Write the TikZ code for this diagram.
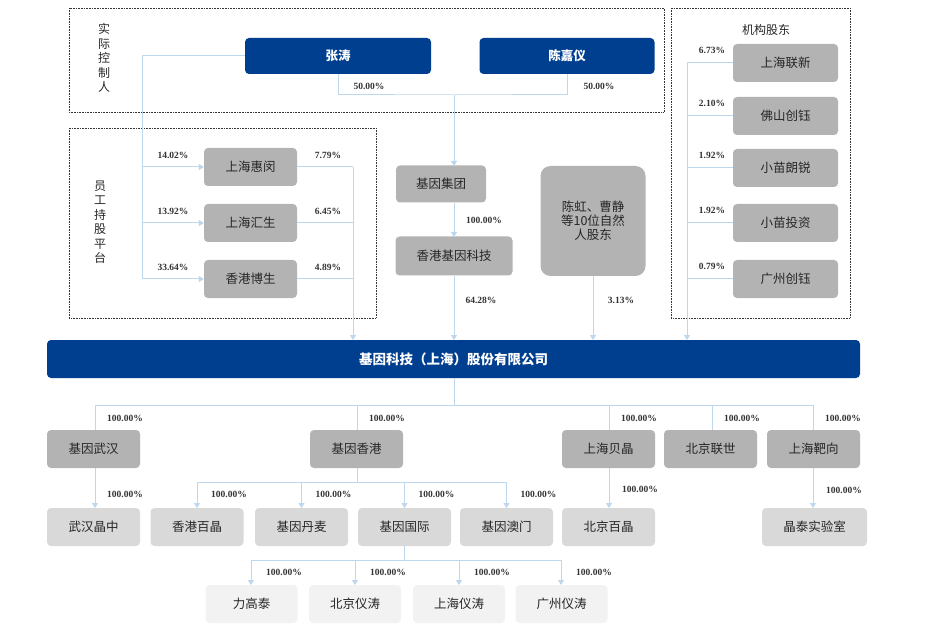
\documentclass[tikz,border=0pt]{standalone}
\usepackage{fontspec}
\setmainfont{Liberation Serif}
\newfontfamily\cjk{Noto Sans CJK SC}
\usetikzlibrary{arrows.meta}
\definecolor{myblue}{HTML}{003F8F}
\definecolor{lnk}{HTML}{BDD7EE}
\definecolor{gA}{HTML}{B3B3B3}
\definecolor{gB}{HTML}{D9D9D9}
\definecolor{gC}{HTML}{F2F2F2}
\begin{document}
\begin{tikzpicture}[x=1pt,y=-1pt,
  bx/.style={rounded corners=4pt,inner sep=0pt,font=\cjk\fontsize{12.5}{14}\selectfont,text=black!85},
  bl/.style={bx,fill=myblue,text=white,font=\cjk\bfseries\fontsize{12.5}{14}\selectfont},
  lv/.style={bx,fill=gA},
  lw/.style={bx,fill=gB},
  lx/.style={bx,fill=gC},
  ln/.style={draw=lnk,line width=1pt},
  ar/.style={ln,-{Triangle[width=6pt,length=5pt]}},
  pc/.style={font=\bfseries\fontsize{9.5}{11}\selectfont,text=black!80,inner sep=0pt},
  dbox/.style={draw=black!80,densely dotted,line width=0.6pt},
  vt/.style={font=\cjk\fontsize{12}{14.5}\selectfont,align=center,text=black!85}]
\useasboundingbox (0,0) rectangle (934,628);
\fill[white] (0,0) rectangle (934,628);
% dotted frames
\draw[dbox] (69,8) rectangle (664,112);
\draw[dbox] (69,128) rectangle (376,318);
\draw[dbox] (671,8) rectangle (850,318);
\node[vt] (t1) at (104,58) {实\\际\\控\\制\\人};
\node[vt] (t2) at (100,222) {员\\工\\持\\股\\平\\台};
\node[vt] (t3) at (766,30) {机构股东};
% top people
\node[bl,minimum width=186pt,minimum height=36pt] (zt) at (338,56) {张涛};
\node[bl,minimum width=175pt,minimum height=36pt] (cjy) at (567,56) {陈嘉仪};
\coordinate (j1) at (454,95);
\draw[ln] (zt.south) |- (j1) -| (cjy.south);
\node[pc] at (369,86) {50.00\%};
\node[pc] at (599,86) {50.00\%};
% group chain
\node[lv,minimum width=90pt,minimum height=37pt] (jtg) at (441,184) {基因集团};
\node[lv,minimum width=117pt,minimum height=39pt] (hkg) at (454,256) {香港基因科技};
\node[lv,minimum width=105pt,minimum height=110pt,rounded corners=10pt,align=center] (ch) at (593,221) {陈虹、曹静\\等10位自然\\人股东};
% main bar
\node[bl,minimum width=813pt,minimum height=38pt,font=\cjk\bfseries\fontsize{13.5}{15}\selectfont] (main) at (453.5,359) {基因科技（上海）股份有限公司};
\draw[ar] (j1) -- (454,166);
\draw[ar] (454,203) -- (454,237);
\node[pc] at (484,220) {100.00\%};
\draw[ar] (454,276) -- (454,340);
\node[pc] at (481,300) {64.28\%};
\draw[ar] (593,276) -- (593,340);
\node[pc] at (621,300) {3.13\%};
% ESOP
\foreach \n/\t/\y/\a/\b in {e1/上海惠闵/167/14.02/7.79,e2/上海汇生/223/13.92/6.45,e3/香港博生/279/33.64/4.89}{
  \node[lv,minimum width=93pt,minimum height=38pt] (\n) at (250.5,\y) {\t};
  \draw[ar] (142,\y) -- (\n.west);
  \draw[ln] (\n.east) -- (353,\y);
  \node[pc] at (173,\y-12) {\a\%};
  \node[pc] at (328,\y-12) {\b\%};
}
\draw[ln] (zt.west) -| (142,279);
\draw[ar] (353,167) -- (353,340);
% institutions
\foreach \n/\t/\y/\a in {i1/上海联新/63/6.73,i2/佛山创钰/116/2.10,i3/小苗朗锐/168/1.92,i4/小苗投资/223/1.92,i5/广州创钰/279/0.79}{
  \node[lv,minimum width=105pt,minimum height=38pt] (\n) at (785.5,\y) {\t};
  \draw[ln] (\n.west) -- (687,\y);
  \node[pc] at (712,\y-13) {\a\%};
}
\draw[ar] (687,63) -- (687,340);
% level 1
\coordinate (j2) at (454,405);
\draw[ln] (main.south -| j2) -- (j2);
\draw[ln] (95,405) -- (813,405);
\foreach \n/\t/\x in {a1/基因武汉/93.5,a2/基因香港/356.5,a3/上海贝晶/608.5,a4/北京联世/710.5,a5/上海靶向/813.5}{
  \node[lv,minimum width=93pt,minimum height=38pt] (\n) at (\x,449) {\t};
}
\foreach \x in {95,357,609,712,813}{
  \draw[ln] (\x,405) -- (\x,430);
  \node[pc] at (\x+30,418) {100.00\%};
}
% level 2
\node[lw,minimum width=93pt,minimum height=38pt] (b1) at (93.5,527) {武汉晶中};
\draw[ar] (95,468) -- (95,508);
\node[pc] at (125,494) {100.00\%};
\foreach \n/\t/\x in {b2/香港百晶/197,b3/基因丹麦/301.5,b4/基因国际/404.5,b5/基因澳门/506.5}{
  \node[lw,minimum width=93pt,minimum height=38pt] (\n) at (\x,527) {\t};
  \draw[ar] (\x,482) -- (\x,508);
  \node[pc] at (\x+32,494) {100.00\%};
}
\draw[ln] (357,468) -- (357,482);
\draw[ln] (197,482) -- (506.5,482);
\node[lw,minimum width=93pt,minimum height=38pt] (b6) at (608.5,527) {北京百晶};
\draw[ar] (609,468) -- (609,508);
\node[pc] at (640,489) {100.00\%};
\node[lw,minimum width=105pt,minimum height=38pt] (b7) at (814.5,527) {晶泰实验室};
\draw[ar] (813,468) -- (813,508);
\node[pc] at (844,490) {100.00\%};
% level 3
\draw[ln] (404.5,546) -- (404.5,560);
\draw[ln] (251,560) -- (561,560);
\foreach \n/\t/\x/\ax in {c1/力高泰/251.5/251,c2/北京仪涛/355/355,c3/上海仪涛/459/459,c4/广州仪涛/561.5/561}{
  \node[lx,minimum width=92pt,minimum height=38pt] (\n) at (\x,604) {\t};
  \draw[ar] (\ax,560) -- (\ax,585);
  \node[pc] at (\ax+33,572) {100.00\%};
}
\end{tikzpicture}
\end{document}
